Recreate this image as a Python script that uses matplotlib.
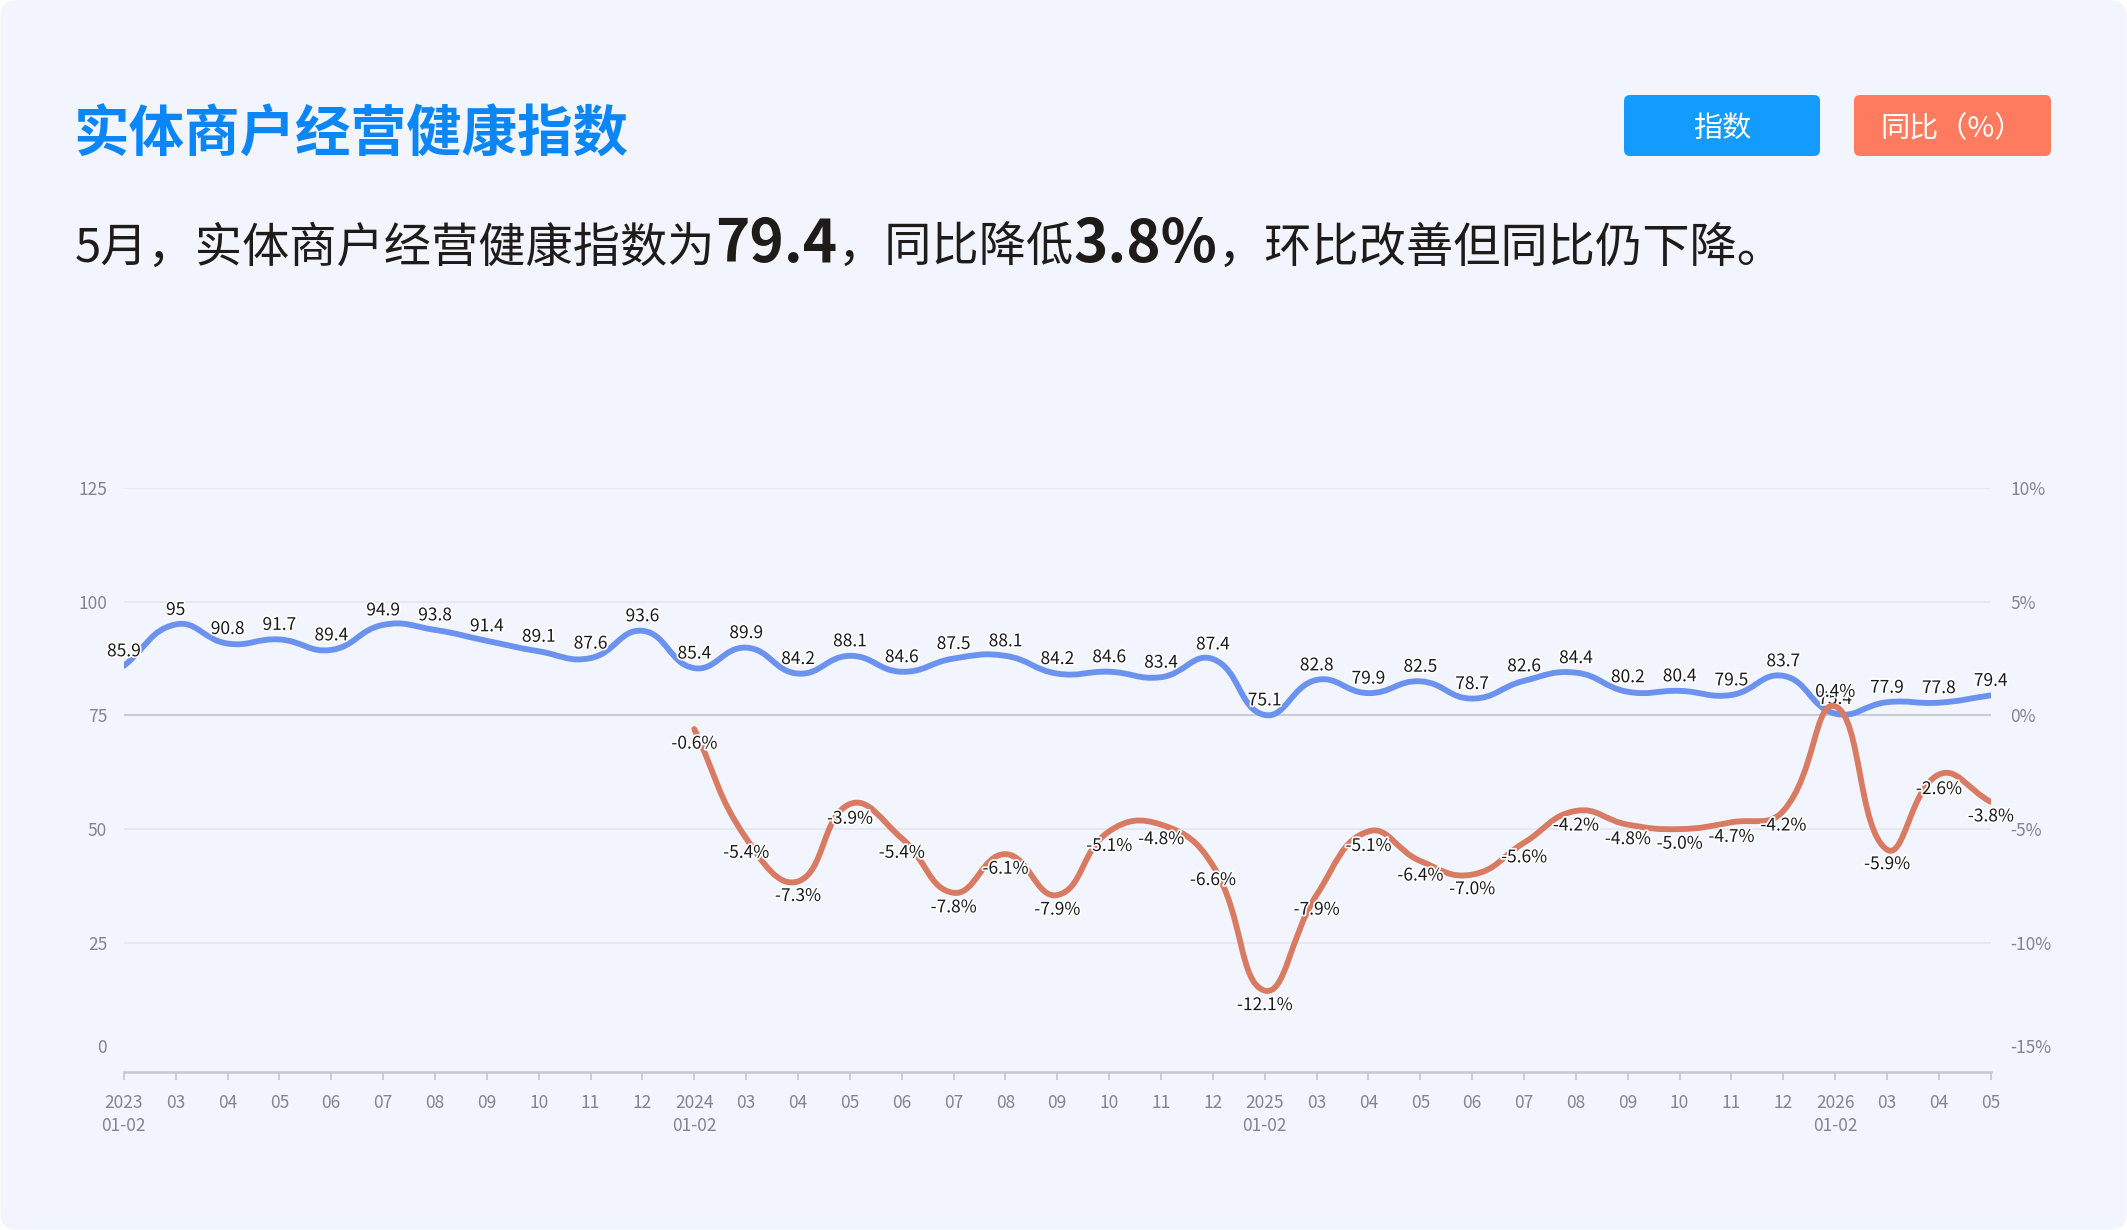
import numpy as np
import matplotlib.pyplot as plt
import matplotlib.patheffects as pe
from matplotlib.patches import FancyBboxPatch, PathPatch
from matplotlib.path import Path
from matplotlib.transforms import IdentityTransform

plt.rcParams['font.family'] = ['Noto Sans CJK SC', 'DejaVu Sans']

# categories
years = ['2023', '2024', '2025', '2026']
months = ['01-02', '03', '04', '05', '06', '07', '08', '09', '10', '11', '12']

# 经营健康指数
index_vals = [85.9, 95, 90.8, 91.7, 89.4, 94.9, 93.8, 91.4, 89.1, 87.6, 93.6,
              85.4, 89.9, 84.2, 88.1, 84.6, 87.5, 88.1, 84.2, 84.6, 83.4, 87.4,
              75.1, 82.8, 79.9, 82.5, 78.7, 82.6, 84.4, 80.2, 80.4, 79.5, 83.7,
              75.4, 77.9, 77.8, 79.4]
# 同比 (%), starts at 2024 01-02
yoy_vals = [-0.6, -5.4, -7.3, -3.9, -5.4, -7.8, -6.1, -7.9, -5.1, -4.8, -6.6,
            -12.1, -7.9, -5.1, -6.4, -7.0, -5.6, -4.2, -4.8, -5.0, -4.7, -4.2,
            0.4, -5.9, -2.6, -3.8]
yoy_start = 11

left_ticks = [0, 25, 50, 75, 100, 125]
right_ticks = [-15, -10, -5, 0, 5, 10]

x_labels = []
for y in years:
    for m in months:
        x_labels.append(y + '\n' + m if m == '01-02' else m)
x_labels = x_labels[:len(index_vals)]

W, H = 2127, 1230
BLUE = '#6b92ee'
CORAL = '#d97a62'
GRAY = '#80858e'

fig = plt.figure(figsize=(W / 100, H / 100), dpi=100, facecolor='white')
card = FancyBboxPatch((0.5, 0.5), W - 1, H - 1, boxstyle='round,pad=0,rounding_size=16',
                      transform=IdentityTransform(), fc='#f2f5fd', ec='none', zorder=-10)
fig.add_artist(card)

ax = fig.add_axes([123.8 / W, 1 - 1072 / H, (1990.7 - 123.8) / W, (1072 - 488) / H])
ax.set_facecolor('none')
ax.set_xlim(0, len(index_vals) - 1)
ax.set_ylim(-3.4, 125)
ax2 = ax.twinx()
ax2.set_ylim(-15.68, 10)


def smooth_line(a, xs, ys, color, lw, k=0.45):
    P = a.transData.transform(np.column_stack([xs, ys]))
    n = len(P)
    cin, cout = [], []
    for i in range(n):
        prev = P[max(i - 1, 0)]
        nxt = P[min(i + 1, n - 1)]
        v = (nxt - prev) * k
        d0 = np.hypot(*(P[i] - prev))
        d1 = np.hypot(*(nxt - P[i]))
        r = d1 / (d0 + d1)
        cin.append(P[i] - v * (1 - r))
        cout.append(P[i] + v * r)
    verts = [P[0]]
    codes = [Path.MOVETO]
    for i in range(n - 1):
        verts += [cout[i], cin[i + 1], P[i + 1]]
        codes += [Path.CURVE4] * 3
    verts = a.transData.inverted().transform(np.array(verts))
    a.add_patch(PathPatch(Path(verts, codes), fill=False, ec=color, lw=lw,
                          capstyle='round', joinstyle='round', zorder=3))


# grid
for v in left_ticks[1:]:
    if v == 75:
        ax.axhline(v, color='#c9cdd5', lw=1.5, zorder=1)
    else:
        ax.axhline(v, color='#e3e6ed', lw=1.2, zorder=1)

x_idx = np.arange(len(index_vals))
x_yoy = np.arange(yoy_start, yoy_start + len(yoy_vals))

smooth_line(ax, x_idx, index_vals, BLUE, 4.2)
smooth_line(ax2, x_yoy, yoy_vals, CORAL, 4.2)

halo = [pe.withStroke(linewidth=2.5, foreground='white')]
for x, v in zip(x_idx, index_vals):
    ax.annotate(f'{v:g}', (x, v), xytext=(0, 4), textcoords='offset points',
                ha='center', va='bottom', fontsize=12.5, color='#1a1a1a',
                path_effects=halo, zorder=5)
for x, v in zip(x_yoy, yoy_vals):
    up = v > 0
    ax2.annotate(f'{v:.1f}%', (x, v), xytext=(0, 4 if up else -4), textcoords='offset points',
                 ha='center', va='bottom' if up else 'top', fontsize=12.5, color='#1a1a1a',
                 path_effects=halo, zorder=5)

# axes styling
for s in ['top', 'left', 'right']:
    ax.spines[s].set_visible(False)
ax.spines['bottom'].set_color('#c5c9d1')
ax.spines['bottom'].set_linewidth(1.8)
for s in ax2.spines.values():
    s.set_visible(False)

ax.set_xticks(x_idx)
ax.set_xticklabels(x_labels, fontsize=12.5, color=GRAY, linespacing=1.35)
ax.tick_params(axis='x', length=6, width=1.3, color='#c5c9d1', pad=10)

ax.set_yticks(left_ticks)
lt = ax.set_yticklabels([str(t) for t in left_ticks], fontsize=12.5, color=GRAY)
lt[0].set_verticalalignment('bottom')
ax.tick_params(axis='y', length=0, pad=12)

ax2.set_yticks(right_ticks)
rt = ax2.set_yticklabels([f'{t}%' for t in right_ticks], fontsize=12.5, color=GRAY)
rt[0].set_verticalalignment('bottom')
ax2.tick_params(axis='y', length=0, pad=14)

# title
fig.text(73 / W, 1 - 136 / H, '实体商户经营健康指数', fontsize=40, fontweight='bold',
         color='#0b86f7', va='center', ha='left')

# subtitle with larger numbers
r = fig.canvas.get_renderer()
pieces = [('5月，实体商户经营健康指数为', 34, 'medium'), ('79.4', 42, 'bold'),
          ('，同比降低', 34, 'medium'), ('3.8%', 42, 'bold'),
          ('，环比改善但同比仍下降。', 34, 'medium')]
xp = 75
for s, fs, fw in pieces:
    t = fig.text(xp / W, 1 - 262 / H, s, fontsize=fs, fontweight=fw,
                 color='#1e1b19', va='baseline', ha='left')
    xp = t.get_window_extent(r).x1

# legend buttons
for x0, x1, col, lab in [(1624, 1820, '#149bfe', '指数'), (1854, 2051, '#ff7b5f', '同比（%）')]:
    fig.add_artist(FancyBboxPatch((x0, H - 156), x1 - x0, 61,
                                  boxstyle='round,pad=0,rounding_size=6',
                                  transform=IdentityTransform(), fc=col, ec='none'))
    fig.text((x0 + x1) / 2 / W, 1 - 129 / H, lab, fontsize=21, color='white',
             ha='center', va='center')

fig.savefig('out.png', dpi=100)
